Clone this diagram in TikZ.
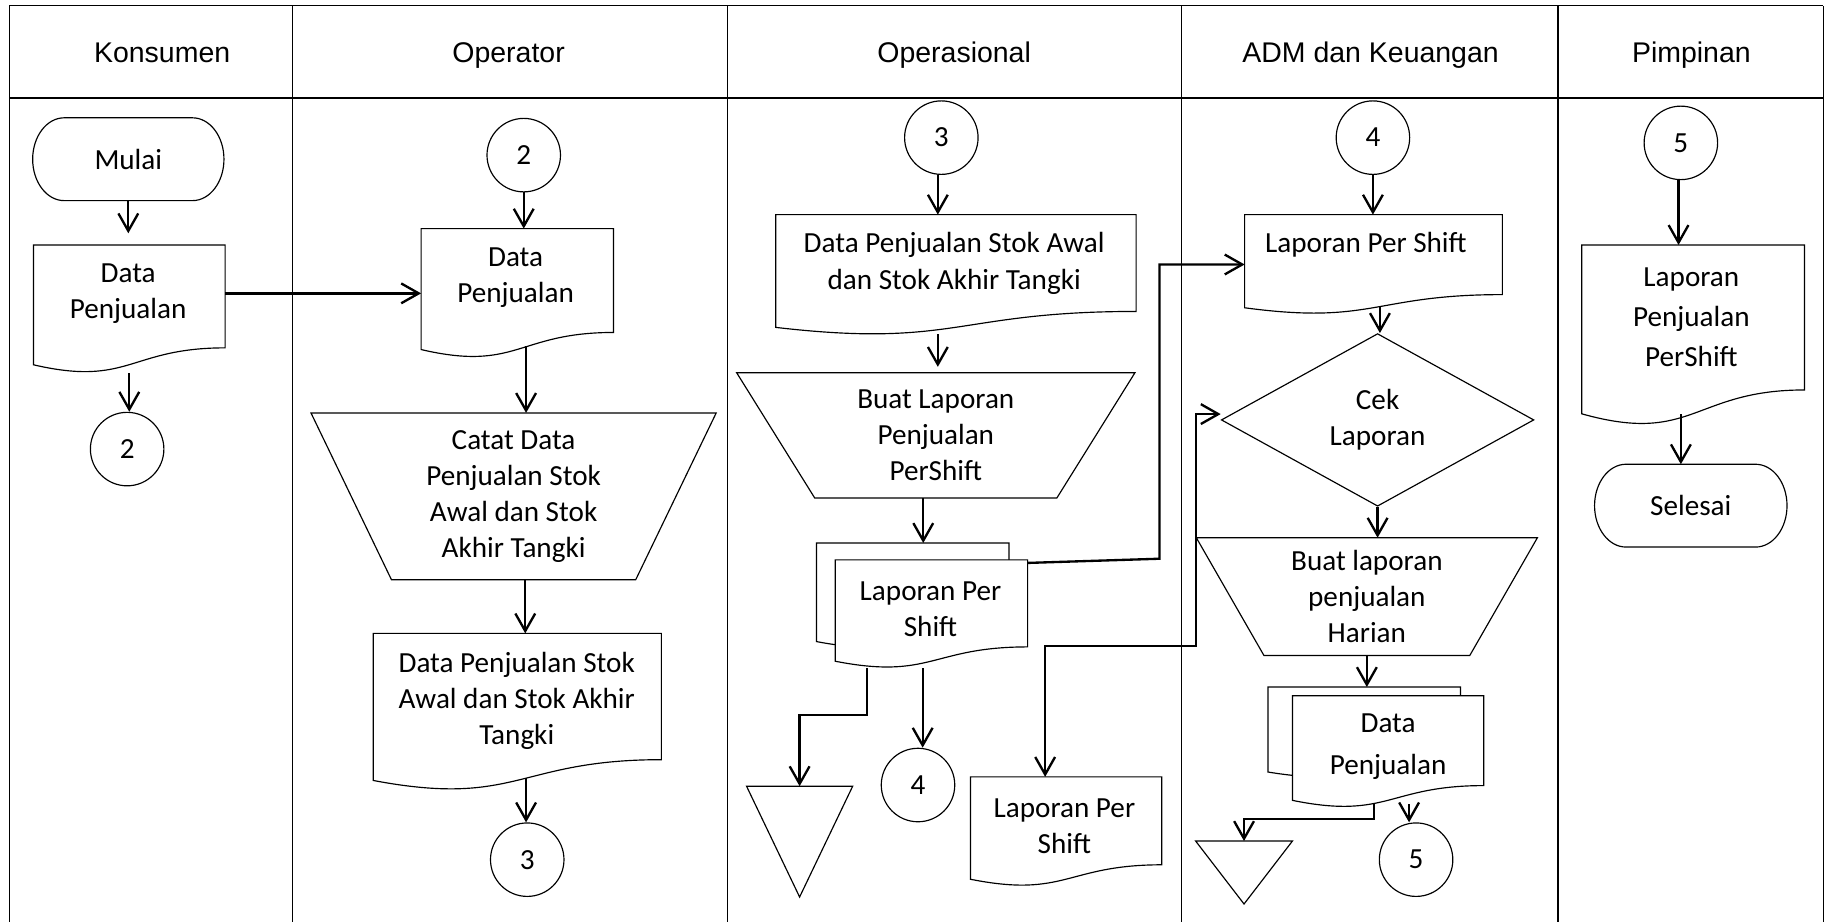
\documentclass[tikz,border=0pt]{standalone}
\usepackage{fontspec}
\setmainfont{Carlito}
\newfontfamily\hdrfont{Liberation Sans}
\usetikzlibrary{arrows.meta,calc,shapes.geometric}
\pgfdeclarelayer{bg}
\pgfsetlayers{bg,main}

\tikzset{
  body/.style={font=\fontsize{12.5}{15.5}\selectfont},
  lbl/.style={body, align=center, inner sep=0pt},
  hdr/.style={font=\hdrfont\fontsize{12.2}{14}\selectfont, text height=8.7pt, text depth=0pt, inner sep=0pt},
  grid/.style={line width=0.5pt},
  shp/.style={line width=0.5pt},
  box/.style={rectangle, draw=none, inner sep=0pt, outer sep=0pt, body, align=center},
  circ/.style={circle, draw, line width=0.5pt, minimum size=31.5pt, inner sep=0pt, body},
  conn/.style={line width=1pt, -{Straight Barb[length=7.5pt,width=8.5pt]}},
  conntwo/.style={line width=1pt, {Straight Barb[length=7.5pt,width=8.5pt]}-{Straight Barb[length=7.5pt,width=8.5pt]}},
}

% document symbol: flat top, wavy bottom
\newcommand\docline[2][]{%
  \begin{pgfonlayer}{bg}
  \draw[shp,#1] (#2.north west) -- (#2.north east)
    -- ($(#2.north east)!0.802!(#2.south east)$)
    .. controls ($(#2.north)!0.802!(#2.south)$) and ($(#2.north)!1.1075!(#2.south)$)
    .. ($(#2.north west)!0.934!(#2.south west)$) -- cycle;
  \end{pgfonlayer}}
% terminator: straight top and bottom, elliptic ends
\newcommand\termline[1]{%
  \begin{pgfonlayer}{bg}
  \draw[shp] ($(#1.north west)+(27,0)$) -- ($(#1.north east)+(-27,0)$)
    arc[start angle=90,end angle=-90,x radius=13.5pt,y radius=17.75pt]
    -- ($(#1.south west)+(27,0)$)
    arc[start angle=270,end angle=90,x radius=13.5pt,y radius=17.75pt] -- cycle;
  \end{pgfonlayer}}
% manual operation: wide top, narrow bottom
\newcommand\trapline[2]{%
  \begin{pgfonlayer}{bg}
  \draw[shp] (#1.north west) -- (#1.north east) -- ($(#1.south east)+(-#2,0)$)
    -- ($(#1.south west)+(#2,0)$) -- cycle;
  \end{pgfonlayer}}
% offline storage: downward triangle
\newcommand\triline[1]{%
  \begin{pgfonlayer}{bg}
  \draw[shp] (#1.north west) -- (#1.north east) -- (#1.south) -- cycle;
  \end{pgfonlayer}}

\begin{document}
\begin{tikzpicture}[x=0.5pt,y=-0.5pt]
\useasboundingbox (0,0) rectangle (1568,790);

% swimlane table
\draw[grid] (8,5) -- (1563,5);
\draw[grid] (8,84) -- (1563,84);
\foreach \xx in {8,250.6,624,1013,1335.7,1563} \draw[grid] (\xx,5) -- (\xx,792);

% lane headings
\node[hdr] (h1) at (139,45) {Konsumen};
\node[hdr] (h2) at (436,45) {Operator};
\node[hdr] (h3) at (818,45) {Operasional};
\node[hdr] (h4) at (1175,45) {ADM dan Keuangan};
\node[hdr] (h5) at (1450,45) {Pimpinan};

% ---- Konsumen
\node[box, minimum width=82pt, minimum height=35.5pt] (mulai) at (110,136.5) {Mulai};
\termline{mulai}
\node[box, minimum width=82.15pt, minimum height=55pt,
  label={[lbl,xshift=-0.5pt,yshift=6.5pt]center:{Data\\Penjualan}}] (kdoc) at (110.85,265) {};
\docline{kdoc}
\node[circ] (kc2) at (109,385) {2};

% ---- Operator
\node[circ] (oc2) at (449,133) {2};
\node[box, minimum width=82.5pt, minimum height=55.5pt,
  label={[lbl,xshift=-0.75pt,yshift=6.75pt]center:{Data\\Penjualan}}] (odoc1) at (443.5,251.5) {};
\docline{odoc1}
\node[box, minimum width=173.7pt, minimum height=71.5pt] (otrap) at (440.3,425.5)
  {Catat Data\\Penjualan Stok\\Awal dan Stok\\Akhir Tangki};
\trapline{otrap}{69}
\node[box, minimum width=123.5pt, minimum height=67.5pt,
  label={[lbl,xshift=-0.25pt,yshift=4.75pt]center:{Data Penjualan Stok\\Awal dan Stok Akhir\\Tangki}}] (odoc2) at (443.5,610.5) {};
\docline{odoc2}
\node[circ] (oc3) at (452,737) {3};

% ---- Operasional
\node[circ] (opc3) at (807,118) {3};
\node[box, minimum width=154.5pt, minimum height=51.75pt,
  label={[lbl,xshift=-0.75pt,yshift=5pt]center:{Data Penjualan Stok Awal\\dan Stok Akhir Tangki}}] (opdoc1) at (819.5,235.75) {};
\docline{opdoc1}
\node[box, minimum width=170.75pt, minimum height=53.75pt] (optrap) at (802.25,373.25)
  {Buat Laporan\\Penjualan\\PerShift};
\trapline{optrap}{67}
\node[box, minimum width=82.5pt, minimum height=45.25pt] (opback) at (782.5,510.75) {};
\docline{opback}
\node[box, minimum width=82.5pt, minimum height=46.5pt,
  label={[lbl,xshift=-0.4pt,yshift=2pt]center:{Laporan Per\\Shift}}] (opfront) at (798.5,526.5) {};
\docline[fill=white]{opfront}
\node[box, minimum width=45.5pt, minimum height=47.5pt] (optri) at (685.5,721.5) {};
\triline{optri}
\node[circ] (opc4) at (787,673) {4};
\node[box, minimum width=82pt, minimum height=47pt,
  label={[lbl,xshift=-0.75pt,yshift=2.25pt]center:{Laporan Per\\Shift}}] (opdoc2) at (914,713) {};
\docline{opdoc2}

% ---- ADM dan Keuangan
\node[circ] (ac4) at (1177,118) {4};
\node[box, minimum width=110.5pt, minimum height=42.75pt,
  label={[lbl,xshift=-3.25pt,yshift=8.5pt]center:{Laporan Per Shift}}] (admdoc1) at (1177.5,226.75) {};
\docline{admdoc1}
\node[diamond, draw, line width=0.5pt, minimum width=134pt, minimum height=74pt,
  inner sep=0pt, body, align=center] (cek) at (1181,360) {Cek\\Laporan};
\node[box, minimum width=146.2pt, minimum height=50.5pt] (admtrap) at (1171.8,511.5)
  {Buat laporan\\penjualan\\Harian};
\trapline{admtrap}{58}
\node[box, minimum width=82.5pt, minimum height=39pt] (admback) at (1169.5,628) {};
\docline{admback}
\node[box, minimum width=82pt, minimum height=48pt,
  label={[lbl,font=\fontsize{12.5}{18}\selectfont,yshift=2.25pt]center:{Data\\Penjualan}}] (admfront) at (1190,644.5) {};
\docline[fill=white]{admfront}
\node[box, minimum width=41.5pt, minimum height=27pt] (atri) at (1066.5,748) {};
\triline{atri}
\node[circ] (ac5) at (1214,737) {5};

% ---- Pimpinan
\node[circ] (pc5) at (1441,122.5) {5};
\node[box, minimum width=95.5pt, minimum height=77.5pt,
  label={[lbl,font=\fontsize{12.5}{17.25}\selectfont,xshift=-0.75pt,yshift=7.75pt]center:{Laporan\\Penjualan\\PerShift}}] (pdoc) at (1451.5,287.5) {};
\docline{pdoc}
\node[box, minimum width=82.5pt, minimum height=35.5pt] (selesai) at (1449.5,433.5) {Selesai};
\termline{selesai}

% ---- flow lines
\draw[conn, shorten >=5pt] (mulai.south) -- (mulai.south |- kdoc.north);
\draw[conn] (kdoc.south) -- (kdoc.south |- kc2.north);
\draw[conn] (kdoc.east |- odoc1.west) -- (odoc1.west);

\draw[conn] (oc2.south) -- (oc2.south |- odoc1.north);
\draw[conn] ($(odoc1.south)+(7.5,-10)$) coordinate (s5) -- (s5 |- otrap.north);
\draw[conn] ($(otrap.south)+(10,0)$) coordinate (s6) -- (s6 |- odoc2.north);
\draw[conn] ($(odoc2.south)+(7.5,-11)$) coordinate (s7) -- (s7 |- oc3.north);

\draw[conn] ($(opc3.south)+(-3,0)$) coordinate (s8) -- (s8 |- opdoc1.north);
\draw[conn, shorten >=2.5pt] ($(opdoc1.south)+(-15.5,-1)$) coordinate (s9) -- (s9 |- optrap.north);
\draw[conn] ($(optrap.south)+(-10.75,0)$) coordinate (s10) -- (s10 |- opback.north);
\coordinate (j11) at (994,479);
\draw[conn] ($(opfront.north east)+(0,2.6)$) -- (j11) |- (admdoc1.west);
\draw[conn] ($(opfront.south)+(-55.5,0)$) -- ++(0,40) -| (optri.north);
\draw[conn] ($(opfront.south)+(-7.5,0)$) coordinate (s13) -- (s13 |- opc4.north);
\coordinate (k14) at (1025.5,554);
\draw[conntwo] ($(cek.west)+(0,-5)$) -| (k14) -| ($(opdoc2.north)+(-18,0)$);

\draw[conn] (ac4.south) -- (ac4.south |- admdoc1.north);
\draw[conn] ($(admdoc1.south)+(5.5,-6)$) coordinate (s16) -- (s16 |- cek.north);
\draw[conn] (cek.south) -- (cek.south |- admtrap.north);
\draw[conn] (admtrap.south) -- (admtrap.south |- admback.north);
\draw[conn] ($(admfront.south)+(18,-3)$) coordinate (s19) -- (s19 |- ac5.north);
\draw[conn] ($(admfront.south)+(-12,-3)$) -- ++(0,12.5) -| (atri.north);

\draw[conn] ($(pc5.south)+(-2,0)$) coordinate (s21) -- (s21 |- pdoc.north);
\draw[conn] ($(pdoc.south)+(-10.5,-10)$) coordinate (s22) -- (s22 |- selesai.north);
\end{tikzpicture}
\end{document}
